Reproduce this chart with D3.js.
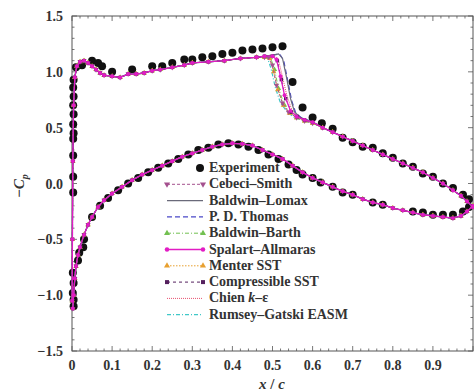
<!DOCTYPE html>
<html>
<head>
<meta charset="utf-8">
<script src="https://cdn.jsdelivr.net/npm/d3@7"></script>
<style>
  body { margin: 0; background: #fff; }
  svg { font-family: "Liberation Serif", "Times New Roman", serif; }
</style>
</head>
<body>
<div id="chart"></div>
<script>
// experiment (black dots), x/c and -Cp
const expX = [0.010, 0.004, 0.003, 0.004, 0.003, 0.004, 0.003, 0.004, 0.003, 0.003, 0.003, 0.003,
  0.025, 0.05, 0.065, 0.075, 0.1, 0.15, 0.2, 0.225, 0.25, 0.28, 0.3, 0.325, 0.35, 0.375, 0.4, 0.425, 0.45, 0.475, 0.5, 0.525,
  0.55, 0.575, 0.6, 0.623, 0.65, 0.675, 0.7, 0.725, 0.75, 0.775, 0.8, 0.825, 0.85, 0.875, 0.9, 0.925, 0.95, 0.975, 0.99,
  0.03, 0.028, 0.018, 0.015, 0.002, 0.004, 0.002, 0.004, 0.004,
  0.05, 0.07, 0.09, 0.115, 0.14, 0.165, 0.19, 0.215, 0.24, 0.265, 0.29, 0.315, 0.34, 0.365, 0.39, 0.415, 0.44, 0.465, 0.49, 0.515, 0.54, 0.56,
  0.575, 0.6, 0.62, 0.65, 0.675, 0.7, 0.75, 0.775, 0.85, 0.875, 0.9, 0.925, 0.95, 0.975, 0.99];
const expCp = [1.04, 0.93, 0.86, 0.78, 0.70, 0.62, 0.53, 0.45, 0.40, 0.25, 0.06, -0.08,
  1.06, 1.10, 1.08, 1.05, 1.00, 1.02, 1.05, 1.05, 1.08, 1.11, 1.11, 1.13, 1.14, 1.16, 1.17, 1.19, 1.20, 1.21, 1.22, 1.23,
  0.91, 0.68, 0.59, 0.54, 0.49, 0.41, 0.37, 0.33, 0.32, 0.27, 0.23, 0.18, 0.15, 0.09, 0.06, 0.00, -0.04, -0.10, -0.14,
  -0.50, -0.57, -0.62, -0.69, -0.80, -0.89, -0.98, -1.04, -1.10,
  -0.30, -0.20, -0.13, -0.06, 0.00, 0.05, 0.10, 0.14, 0.18, 0.22, 0.26, 0.30, 0.32, 0.35, 0.36, 0.35, 0.33, 0.30, 0.26, 0.22, 0.17, 0.12,
  0.08, 0.05, 0.01, -0.03, -0.08, -0.10, -0.17, -0.19, -0.25, -0.26, -0.28, -0.28, -0.28, -0.25, -0.21];

// computed curves: upper surface ahead of the shock (all models overlap)
const upperFrontX = [0.0005, 0.001, 0.002, 0.004, 0.007, 0.012, 0.02, 0.03, 0.04, 0.05, 0.06, 0.07, 0.08, 0.1, 0.12, 0.14,
  0.16, 0.18, 0.2, 0.22, 0.25, 0.28, 0.3, 0.34, 0.38, 0.42, 0.46];
const upperFrontCp = [-1.05, -0.5, 0.2, 0.7, 0.95, 1.05, 1.09, 1.10, 1.08, 1.05, 1.02, 0.99, 0.97, 0.96, 0.95, 0.98,
  0.98, 0.99, 1.01, 1.02, 1.04, 1.06, 1.08, 1.09, 1.10, 1.12, 1.13];

// upper surface behind the shock
const upperRearX = [0.625, 0.65, 0.675, 0.7, 0.725, 0.75, 0.775, 0.8, 0.825, 0.85, 0.875, 0.9, 0.925, 0.95, 0.97, 0.985, 1.0];
const upperRearCp = [0.50, 0.46, 0.42, 0.38, 0.34, 0.30, 0.26, 0.22, 0.18, 0.14, 0.10, 0.05, 0.00, -0.06, -0.11, -0.16, -0.21];

// lower surface
const lowerX = [0.002, 0.004, 0.007, 0.01, 0.015, 0.02, 0.03, 0.04, 0.05, 0.065, 0.08, 0.1, 0.125, 0.15, 0.175, 0.2, 0.225,
  0.25, 0.275, 0.3, 0.325, 0.35, 0.375, 0.4, 0.425, 0.45, 0.475, 0.5, 0.525, 0.55, 0.575, 0.6, 0.625, 0.65, 0.675, 0.7,
  0.725, 0.75, 0.775, 0.8, 0.825, 0.85, 0.875, 0.9, 0.925, 0.95, 0.97, 0.985, 1.0];
const lowerCp = [-1.12, -1.0, -0.85, -0.74, -0.64, -0.57, -0.46, -0.37, -0.3, -0.21, -0.15, -0.09, -0.03, 0.03, 0.08, 0.12, 0.16,
  0.2, 0.24, 0.27, 0.3, 0.33, 0.35, 0.36, 0.355, 0.34, 0.3, 0.26, 0.22, 0.16, 0.1, 0.05, 0.01, -0.03, -0.07, -0.1,
  -0.14, -0.17, -0.19, -0.22, -0.24, -0.26, -0.28, -0.29, -0.3, -0.31, -0.29, -0.25, -0.2];

// shock region of each model, [x/c, -Cp]
const shockCebeciSmith = [[0.48, 1.13], [0.49, 1.13], [0.50, 1.06], [0.51, 0.88], [0.525, 0.72], [0.54, 0.64], [0.56, 0.59], [0.58, 0.56], [0.6, 0.54]];
const shockBaldwinLomax = [[0.48, 1.14], [0.50, 1.15], [0.515, 1.16], [0.525, 1.12], [0.535, 0.95], [0.545, 0.76], [0.555, 0.64], [0.57, 0.59], [0.6, 0.55]];
const shockThomas = [[0.48, 1.14], [0.50, 1.15], [0.518, 1.16], [0.528, 1.10], [0.538, 0.92], [0.548, 0.74], [0.558, 0.63], [0.572, 0.59], [0.6, 0.55]];
const shockBaldwinBarth = [[0.48, 1.13], [0.495, 1.13], [0.505, 1.02], [0.515, 0.85], [0.53, 0.70], [0.545, 0.63], [0.56, 0.59], [0.58, 0.56], [0.6, 0.54]];
const shockSpalartAllmaras = [[0.48, 1.14], [0.50, 1.14], [0.51, 1.11], [0.52, 0.96], [0.53, 0.79], [0.545, 0.65], [0.56, 0.60], [0.58, 0.57], [0.6, 0.55]];
const shockMenterSST = [[0.48, 1.13], [0.493, 1.12], [0.503, 1.00], [0.513, 0.84], [0.527, 0.70], [0.542, 0.63], [0.56, 0.59], [0.58, 0.56], [0.6, 0.54]];
const shockCompressibleSST = [[0.48, 1.14], [0.50, 1.14], [0.512, 1.10], [0.522, 0.93], [0.533, 0.76], [0.547, 0.64], [0.562, 0.60], [0.58, 0.57], [0.6, 0.55]];
const shockChien = [[0.48, 1.14], [0.50, 1.15], [0.514, 1.12], [0.524, 0.97], [0.535, 0.80], [0.548, 0.66], [0.562, 0.60], [0.58, 0.57], [0.6, 0.55]];
const shockRumseyGatski = [[0.48, 1.13], [0.488, 1.12], [0.497, 1.02], [0.507, 0.86], [0.52, 0.72], [0.537, 0.64], [0.555, 0.59], [0.58, 0.56], [0.6, 0.54]];

const modelNames = ["Cebeci\u2013Smith", "Baldwin\u2013Lomax", "P. D. Thomas", "Baldwin\u2013Barth", "Spalart\u2013Allmaras",
  "Menter SST", "Compressible SST", "Chien k\u2013\u03b5", "Rumsey\u2013Gatski EASM"];
const modelShocks = [shockCebeciSmith, shockBaldwinLomax, shockThomas, shockBaldwinBarth, shockSpalartAllmaras,
  shockMenterSST, shockCompressibleSST, shockChien, shockRumseyGatski];

const xTicks = [0, 0.1, 0.2, 0.3, 0.4, 0.5, 0.6, 0.7, 0.8, 0.9];
const yTicks = [-1.5, -1.0, -0.5, 0.0, 0.5, 1.0, 1.5];

// styles, same order as modelNames
const styles = [
  {color: "#a4508e", dash: "3,2", sym: "down", w: 1},
  {color: "#6a6a7a", dash: null, sym: null, w: 1.2},
  {color: "#4a48c8", dash: "5,3", sym: null, w: 1.2},
  {color: "#72c050", dash: "4,2,1,2", sym: "up", w: 1},
  {color: "#e21cc4", dash: null, sym: "circle", w: 1.3},
  {color: "#e8a030", dash: "1.5,1.5", sym: "up", w: 1},
  {color: "#55205e", dash: "3,3", sym: "square", w: 1},
  {color: "#e8506e", dash: "1,1", sym: null, w: 1},
  {color: "#40c8c8", dash: "4,2,1,2", sym: null, w: 1.2}
];
const drawOrder = [8, 7, 3, 5, 0, 2, 1, 6, 4];

const W = 474, H = 392;
const margin = {top: 16, right: 1, bottom: 41, left: 72};

const svg = d3.select("#chart").append("svg")
  .attr("width", W).attr("height", H);

const x = d3.scaleLinear().domain([0, 1]).range([margin.left, W - margin.right]);
const y = d3.scaleLinear().domain([-1.5, 1.5]).range([H - margin.bottom, margin.top]);

// frame
svg.append("rect")
  .attr("x", x(0)).attr("y", y(1.5))
  .attr("width", x(1) - x(0)).attr("height", y(-1.5) - y(1.5))
  .attr("fill", "none").attr("stroke", "#555").attr("stroke-width", 1);

// ticks on all four sides, pointing inward
const xMinor = d3.range(0, 1.0001, 0.02);
const yMinor = d3.range(-1.5, 1.5001, 0.1);
const tickG = svg.append("g").attr("stroke", "#555").attr("stroke-width", 0.8);
xMinor.forEach((v, i) => {
  const len = i % 5 === 0 ? 5 : 2.5;
  tickG.append("line").attr("x1", x(v)).attr("x2", x(v)).attr("y1", y(-1.5)).attr("y2", y(-1.5) - len);
  tickG.append("line").attr("x1", x(v)).attr("x2", x(v)).attr("y1", y(1.5)).attr("y2", y(1.5) + len);
});
yMinor.forEach((v, i) => {
  const len = i % 5 === 0 ? 5 : 2.5;
  tickG.append("line").attr("y1", y(v)).attr("y2", y(v)).attr("x1", x(0)).attr("x2", x(0) + len);
  tickG.append("line").attr("y1", y(v)).attr("y2", y(v)).attr("x1", x(1)).attr("x2", x(1) - len);
});

// tick labels
svg.append("g").selectAll("text").data(xTicks).join("text")
  .attr("x", d => x(d)).attr("y", y(-1.5) + 19)
  .attr("text-anchor", "middle")
  .attr("font-size", 14).attr("font-weight", "bold").attr("fill", "#333")
  .text(d => d === 0 ? "0" : d3.format(".1f")(d));

svg.append("g").selectAll("text").data(yTicks).join("text")
  .attr("x", x(0) - 9).attr("y", d => y(d) + 5)
  .attr("text-anchor", "end")
  .attr("font-size", 14).attr("font-weight", "bold").attr("fill", "#333")
  .text(d => d3.format(".1f")(d).replace("-", "\u2212"));

// axis titles
const xt = svg.append("text")
  .attr("x", 272).attr("y", 389)
  .attr("text-anchor", "middle")
  .attr("font-size", 15).attr("font-weight", "bold").attr("font-style", "italic").attr("fill", "#333");
xt.append("tspan").text("x");
xt.append("tspan").attr("font-style", "normal").text(" / ");
xt.append("tspan").text("c");

const yt = svg.append("text")
  .attr("transform", "translate(24,186) rotate(-90)")
  .attr("text-anchor", "middle")
  .attr("font-size", 15).attr("font-weight", "bold").attr("fill", "#333");
yt.append("tspan").text("\u2212");
yt.append("tspan").attr("font-style", "italic").text("C");
yt.append("tspan").attr("font-style", "italic").attr("font-size", 10).attr("dy", 4).text("p");

// experiment dots (drawn under the computed curves)
svg.append("g").selectAll("circle").data(d3.zip(expX, expCp)).join("circle")
  .attr("cx", d => x(d[0])).attr("cy", d => y(d[1]))
  .attr("r", 4).attr("fill", "#111");

const line = d3.line().x(d => x(d[0])).y(d => y(d[1]));

function symbolPath(kind, size) {
  if (kind === "circle") return d3.symbol(d3.symbolCircle, size)();
  if (kind === "square") return d3.symbol(d3.symbolSquare, size)();
  return d3.symbol(d3.symbolTriangle, size)();
}

const curves = svg.append("g");
drawOrder.forEach(i => {
  const st = styles[i];
  const upper = d3.zip(upperFrontX, upperFrontCp).concat(modelShocks[i], d3.zip(upperRearX, upperRearCp));
  const lower = d3.zip(lowerX, lowerCp);
  [upper, lower].forEach(pts => {
    curves.append("path").attr("d", line(pts))
      .attr("fill", "none").attr("stroke", st.color).attr("stroke-width", st.w)
      .attr("stroke-dasharray", st.dash);
    if (st.sym) {
      curves.append("g").selectAll("path").data(pts).join("path")
        .attr("d", symbolPath(st.sym, 12))
        .attr("transform", d => `translate(${x(d[0])},${y(d[1])})` + (st.sym === "down" ? " rotate(180)" : ""))
        .attr("fill", st.color);
    }
  });
});

// legend
const lg = svg.append("g");
const lx0 = 167, lx1 = 203, ltx = 209, ly0 = 172, lstep = 16.3;
lg.append("circle").attr("cx", 200).attr("cy", ly0 - 4).attr("r", 4).attr("fill", "#111");
lg.append("text").attr("x", ltx).attr("y", ly0)
  .attr("font-size", 14).attr("font-weight", "bold").attr("fill", "#333").text("Experiment");
modelNames.forEach((name, i) => {
  const st = styles[i];
  const yy = ly0 + (i + 1) * lstep;
  lg.append("line").attr("x1", lx0).attr("x2", lx1).attr("y1", yy - 4).attr("y2", yy - 4)
    .attr("stroke", st.color).attr("stroke-width", st.w).attr("stroke-dasharray", st.dash);
  if (st.sym) {
    [lx0, lx1].forEach(px => {
      lg.append("path").attr("d", symbolPath(st.sym, 16))
        .attr("transform", `translate(${px},${yy - 4})` + (st.sym === "down" ? " rotate(180)" : ""))
        .attr("fill", st.color);
    });
  }
  const t = lg.append("text").attr("x", ltx).attr("y", yy)
    .attr("font-size", 14).attr("font-weight", "bold").attr("fill", "#333");
  if (name.startsWith("Chien")) {
    t.append("tspan").text("Chien ");
    t.append("tspan").attr("font-style", "italic").text("k");
    t.append("tspan").text("\u2013\u03b5");
  } else {
    t.text(name);
  }
});
</script>
</body>
</html>
